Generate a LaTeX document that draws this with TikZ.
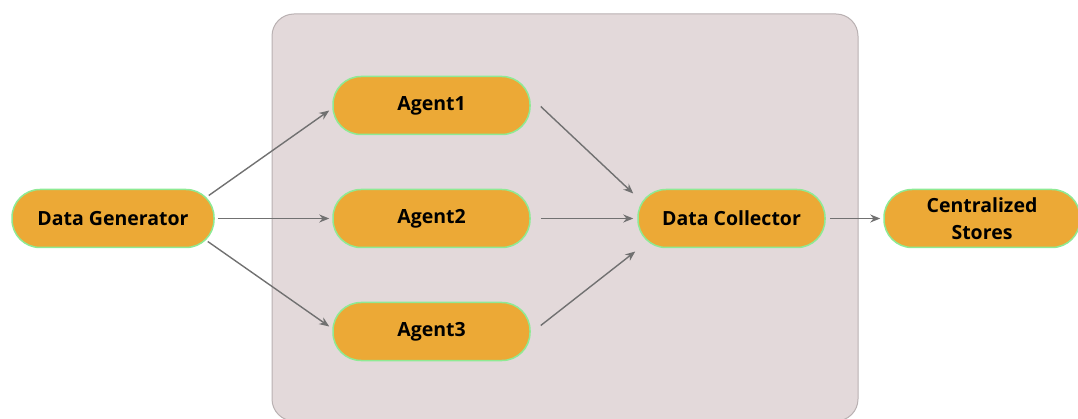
\documentclass[tikz,border=0pt]{standalone}
\usepackage{fontspec}
\setmainfont{Open Sans}
\usetikzlibrary{arrows.meta}
\definecolor{nodefill}{HTML}{ECA936}
\definecolor{nodeline}{HTML}{8EEA94}
\definecolor{boxfill}{HTML}{E3D9DA}
\definecolor{boxline}{HTML}{B9B1B2}
\definecolor{arrowgray}{HTML}{717171}
\begin{document}
\begin{tikzpicture}[x=1pt,y=-1pt,
  pill/.style={draw=nodeline,line width=1.5pt,fill=nodefill,rounded corners=28pt,
    minimum height=58pt,inner sep=0pt,align=center,
    font=\fontsize{19.5}{27}\selectfont\bfseries},
  arr/.style={draw=arrowgray,line width=1.4pt,-{Stealth[length=10pt,width=8pt]}}]
\useasboundingbox (0,0) rectangle (1078,419);
\draw[fill=boxfill,draw=boxline,line width=1pt,rounded corners=22pt] (272,14) rectangle (858,421);
\node[pill,minimum width=202pt] (dg) at (113,218.5) {Data Generator};
\node[pill,minimum width=197pt] (a1) at (431.5,105.5) {Agent1};
\node[pill,minimum width=197pt] (a2) at (431.5,218.5) {Agent2};
\node[pill,minimum width=197pt] (a3) at (431.5,331.5) {Agent3};
\node[pill,minimum width=187pt] (dc) at (731.5,218.5) {Data Collector};
\node[pill,minimum width=196pt] (cs) at (982,218.5) {Centralized\\Stores};
\draw[arr] ([xshift=-6pt,yshift=23pt]dg.east) -- ([xshift=-3pt,yshift=-5pt]a1.west);
\draw[arr] ([xshift=3pt]dg.east) -- ([xshift=-3pt]a2.west);
\draw[arr] ([xshift=-7pt,yshift=-23pt]dg.east) -- ([xshift=-3pt,yshift=5pt]a3.west);
\draw[arr] ([xshift=10pt,yshift=-1pt]a1.east) -- ([xshift=-4pt,yshift=25pt]dc.west);
\draw[arr] ([xshift=10pt]a2.east) -- ([xshift=-4pt]dc.west);
\draw[arr] ([xshift=10pt,yshift=6pt]a3.east) -- ([xshift=-2pt,yshift=-33pt]dc.west);
\draw[arr] ([xshift=4pt]dc.east) -- ([xshift=-3pt]cs.west);
\end{tikzpicture}
\end{document}
